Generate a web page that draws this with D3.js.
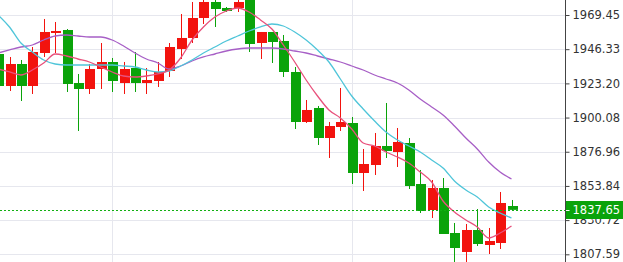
<!DOCTYPE html>
<html>
<head>
<meta charset="utf-8">
<script src="https://cdn.jsdelivr.net/npm/d3@7"></script>
<style>
body { margin: 0; background: #fff; }
svg { display: block; }
</style>
</head>
<body>
<svg id="chart" width="623" height="262"></svg>
<script>
// candle index -1 is the one cut off at the left edge
const idx = d3.range(-1, 45);

const opens  = [1943.07,1921.43,1936.31,1921.43,1943.75,1957.28,1959.31,1923.46,1919.40,1932.93,1937.66,1923.46,1933.60,1923.46,1924.81,1931.58,1946.46,1953.90,1967.42,1978.25,1974.19,1974.19,1979.60,1950.51,1957.96,1951.87,1930.90,1897.08,1906.55,1886.26,1893.70,1896.40,1862.58,1867.99,1880.85,1876.79,1882.88,1855.14,1837.56,1852.44,1822.00,1809.15,1824.03,1813.88,1815.23,1840.26];
const highs  = [1945.78,1941.05,1939.02,1947.81,1966.75,1964.72,1959.98,1929.55,1936.31,1950.51,1940.37,1937.66,1944.43,1933.60,1937.66,1950.51,1970.13,1978.25,1981.63,1980.95,1974.87,1980.28,1981.63,1957.96,1957.96,1955.93,1934.28,1911.96,1907.90,1897.08,1920.08,1900.46,1878.82,1889.64,1909.93,1893.02,1886.26,1864.61,1857.85,1859.20,1828.77,1828.09,1838.23,1825.38,1849.73,1844.32];
const lows   = [1917.37,1918.05,1911.28,1916.02,1941.05,1943.75,1917.37,1890.99,1916.02,1919.40,1917.37,1916.02,1917.37,1916.02,1920.75,1927.52,1939.69,1950.51,1963.37,1961.34,1971.48,1971.48,1944.43,1939.69,1936.99,1927.52,1892.34,1896.40,1881.52,1872.73,1890.99,1855.14,1850.41,1861.23,1872.73,1866.64,1851.76,1835.53,1832.15,1821.32,1802.38,1802.38,1813.20,1807.79,1811.18,1836.88];
const closes = [1921.43,1936.31,1921.43,1944.43,1957.96,1958.63,1922.78,1919.40,1932.93,1937.66,1924.81,1932.93,1923.46,1925.49,1930.90,1947.81,1953.90,1967.42,1978.25,1973.51,1972.16,1978.25,1949.84,1957.96,1951.19,1930.90,1897.08,1905.20,1886.26,1894.37,1897.08,1862.58,1868.67,1880.85,1877.46,1883.55,1853.79,1836.88,1852.44,1821.32,1811.85,1824.03,1814.56,1816.59,1842.29,1837.65];

// moving average lines
const maPink   = [1932.93,1930.90,1928.87,1932.25,1936.99,1943.07,1941.72,1939.69,1937.66,1934.28,1930.90,1928.19,1927.52,1928.19,1929.55,1932.25,1940.37,1952.54,1961.34,1968.10,1972.16,1974.19,1971.48,1966.07,1959.98,1949.16,1937.66,1925.49,1914.67,1905.20,1899.78,1892.34,1882.87,1880.85,1876.79,1873.41,1869.35,1863.26,1856.50,1843.64,1836.20,1830.79,1826.06,1818.62,1822.00,1826.73];
const maCyan   = [1969.45,1961.34,1950.51,1944.43,1939.02,1936.31,1935.63,1935.63,1935.63,1935.63,1935.63,1934.96,1934.28,1932.25,1930.90,1931.58,1934.96,1939.02,1943.75,1947.81,1951.87,1955.25,1958.63,1961.34,1963.37,1962.01,1957.96,1952.54,1945.78,1937.66,1926.16,1914.67,1905.87,1897.76,1890.32,1884.90,1880.85,1876.79,1871.38,1865.96,1857.17,1851.08,1846.35,1839.59,1835.53,1832.14];
const maPurple = [1943.75,1945.78,1947.81,1949.16,1952.54,1955.25,1955.93,1955.25,1954.57,1954.57,1952.54,1948.49,1943.75,1939.69,1936.99,1932.93,1934.96,1938.34,1941.05,1943.07,1945.10,1946.46,1947.13,1947.13,1947.13,1946.46,1945.10,1943.75,1941.72,1939.69,1937.66,1934.96,1932.25,1928.87,1926.16,1923.46,1918.72,1912.64,1907.23,1901.81,1894.37,1886.26,1878.82,1870.02,1863.26,1858.52];

const tickVals = [1807.59,1830.72,1853.84,1876.96,1900.08,1923.20,1946.33,1969.45];
const gridIdx = [9, 30];
const lastPrice = 1837.65;

const W = 623, H = 262, axisX = 565;
const upColor = '#f2130e', downColor = '#0aa30a';

const svg = d3.select('#chart');

const x = d3.scaleLinear().domain([0, 44]).range([9.5, 511.5]);
const y = d3.scaleLinear().domain([1807.59, 1969.45]).range([254.3, 15]);

const px = v => Math.round(v) + 0.5;

// grid
svg.append('g').selectAll('line.hg')
    .data(tickVals).enter().append('line')
    .attr('x1', 0).attr('x2', axisX)
    .attr('y1', d => px(y(d))).attr('y2', d => px(y(d)))
    .attr('stroke', '#e6e7ee').attr('stroke-width', 1);
svg.append('g').selectAll('line.vg')
    .data(gridIdx).enter().append('line')
    .attr('x1', d => px(x(d))).attr('x2', d => px(x(d)))
    .attr('y1', 0).attr('y2', H)
    .attr('stroke', '#e6e7ee').attr('stroke-width', 1);

// candles
const candles = svg.append('g').selectAll('g')
    .data(idx).enter().append('g');
candles.append('line')
    .attr('x1', i => px(x(i))).attr('x2', i => px(x(i)))
    .attr('y1', (i, k) => y(highs[k])).attr('y2', (i, k) => y(lows[k]))
    .attr('stroke', (i, k) => closes[k] >= opens[k] ? upColor : downColor)
    .attr('stroke-width', 1);
candles.append('rect')
    .attr('x', i => Math.round(x(i)) - 4)
    .attr('width', 10)
    .attr('y', (i, k) => y(Math.max(opens[k], closes[k])))
    .attr('height', (i, k) => Math.max(1, Math.abs(y(opens[k]) - y(closes[k]))))
    .attr('fill', (i, k) => closes[k] >= opens[k] ? upColor : downColor);

// moving averages
const line = d3.line().x((d, k) => x(idx[k])).y(d => y(d)).curve(d3.curveMonotoneX);
[[maPurple, '#a75fc6'], [maCyan, '#4fc5d9'], [maPink, '#e8517c']].forEach(([s, c]) => {
    svg.append('path').datum(s)
        .attr('d', line)
        .attr('fill', 'none')
        .attr('stroke', c)
        .attr('stroke-width', 1.3);
});

// last price dashed line
svg.append('line')
    .attr('x1', 0).attr('x2', axisX)
    .attr('y1', px(y(lastPrice))).attr('y2', px(y(lastPrice)))
    .attr('stroke', '#12b012').attr('stroke-width', 1)
    .attr('stroke-dasharray', '2,2');

// right panel
svg.append('rect').attr('x', axisX).attr('y', 0).attr('width', W - axisX).attr('height', H).attr('fill', '#fff');

const axis = svg.append('g')
    .attr('transform', `translate(${axisX + 0.5},0)`)
    .call(d3.axisRight(y).tickValues(tickVals).tickSize(4).tickPadding(3).tickFormat(d3.format('.2f')));
axis.select('.domain').remove();
axis.selectAll('.tick line').attr('stroke', '#444');
axis.selectAll('.tick text')
    .attr('fill', '#333')
    .style('font-family', 'DejaVu Sans, Verdana, sans-serif')
    .style('font-size', '11.5px');

svg.append('line')
    .attr('x1', axisX + 0.5).attr('x2', axisX + 0.5)
    .attr('y1', 0).attr('y2', H)
    .attr('stroke', '#444').attr('stroke-width', 1);

// last price label
const ly = y(lastPrice);
svg.append('rect')
    .attr('x', axisX + 1).attr('y', Math.round(ly) - 9)
    .attr('width', W - axisX - 1).attr('height', 18)
    .attr('fill', '#0aa30a');
svg.append('line')
    .attr('x1', axisX + 1).attr('x2', axisX + 4.5)
    .attr('y1', px(ly)).attr('y2', px(ly))
    .attr('stroke', '#fff');
svg.append('text')
    .attr('x', axisX + 7.5).attr('y', ly)
    .attr('dy', '0.36em')
    .attr('fill', '#fff')
    .style('font-family', 'DejaVu Sans, Verdana, sans-serif')
    .style('font-size', '11.5px')
    .text(d3.format('.2f')(lastPrice));
</script>
</body>
</html>
